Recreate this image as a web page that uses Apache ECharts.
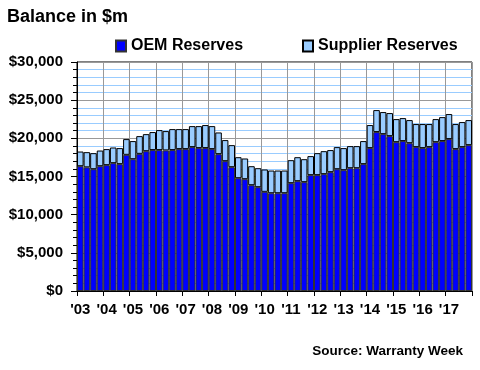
<!DOCTYPE html>
<html>
<head>
<meta charset="utf-8">
<script src="https://cdn.jsdelivr.net/npm/echarts@6/dist/echarts.min.js"></script>
<style>
html,body{margin:0;padding:0;background:#fff;}
#chart{width:480px;height:370px;}
</style>
</head>
<body>
<div id="chart"></div>
<script>
const years = ["'03","'04","'05","'06","'07","'08","'09","'10","'11","'12","'13","'14","'15","'16","'17"];
const quarters = ["Q1","Q2","Q3","Q4"];
const categories = years.flatMap(y => quarters.map(q => y + ' ' + q));

const oemReserves = [
  16350,16200,15960,16350, 16490,16750,16620,17840, 17270,17970,18320,18460,
  18460,18420,18460,18590, 18590,18850,18720,18720, 18590,17930,17010,16220,
  14780,14650,13860,13600, 12990,12810,12810,12810, 14130,14390,14260,15180,
  15180,15310,15570,15960, 15830,16090,16090,16620, 18720,20820,20550,20290,
  19500,19640,19370,18850, 18720,18850,19500,19640, 19900,18590,18850,19110
];
const supplierReserves = [
  1920,1990,2100,2050, 2100,2050,2100,2060, 2370,2320,2230,2360,
  2620,2530,2750,2620, 2620,2750,2880,3020, 3010,2840,2760,2890,
  2750,2710,2490,2490, 2930,2970,2970,2970, 3010,3140,3010,2490,
  2880,3010,2890,2890, 2890,2890,2890,3020, 3020,2880,2890,3020,
  3020,3010,3020,3020, 3150,3020,3020,3140, 3280,3280,3280,3280
];

const FONT = '"Liberation Sans", Arial, sans-serif';
const chart = echarts.init(document.getElementById('chart'), null, {renderer: 'canvas'});
chart.setOption({
  animation: false,
  backgroundColor: '#fff',
  title: {
    text: 'Balance in $m',
    left: 7, top: 8, padding: 0,
    textStyle: {fontFamily: FONT, fontSize: 18, fontWeight: 'bold', color: '#000'}
  },
  legend: [
    {
      data: ['OEM Reserves'], left: 115, top: 38, padding: 0, icon: 'rect',
      itemWidth: 10, itemHeight: 11,
      textStyle: {fontFamily: FONT, fontSize: 16, fontWeight: 'bold', color: '#000'}
    },
    {
      data: ['Supplier Reserves'], left: 302, top: 38, padding: 0, icon: 'rect',
      itemWidth: 10, itemHeight: 11,
      textStyle: {fontFamily: FONT, fontSize: 16, fontWeight: 'bold', color: '#000'}
    }
  ],
  grid: {
    left: 77, right: 8, top: 62, bottom: 79,
    show: true, borderColor: '#000', borderWidth: 1, backgroundColor: 'transparent'
  },
  xAxis: {
    type: 'category',
    data: categories,
    boundaryGap: true,
    axisLine: {lineStyle: {color: '#000', width: 1}},
    axisTick: {show: true, interval: 3, length: 5, lineStyle: {color: '#000'}},
    axisLabel: {
      interval: 3, margin: 11,
      fontFamily: FONT, fontSize: 15, fontWeight: 'bold', color: '#000',
      formatter: v => v.split(' ')[0]
    },
    splitLine: {show: true, interval: 3, lineStyle: {color: '#999', width: 1}}
  },
  yAxis: {
    type: 'value',
    min: 0, max: 30000, interval: 5000,
    axisLine: {show: true, lineStyle: {color: '#000', width: 1}},
    axisTick: {show: true, length: 6, lineStyle: {color: '#000'}},
    minorTick: {show: true, splitNumber: 5, length: 4, lineStyle: {color: '#000'}},
    axisLabel: {
      margin: 14,
      fontFamily: FONT, fontSize: 15, fontWeight: 'bold', color: '#000',
      formatter: v => '$' + v.toLocaleString('en-US')
    },
    splitLine: {show: true, lineStyle: {color: '#999', width: 1}},
    minorSplitLine: {show: true, lineStyle: {color: '#99ccff', width: 1}}
  },
  series: [
    {
      name: 'OEM Reserves', type: 'bar', stack: 'total',
      data: oemReserves, barCategoryGap: '0%',
      itemStyle: {color: '#0000ff', borderColor: '#333', borderWidth: 1}
    },
    {
      name: 'Supplier Reserves', type: 'bar', stack: 'total',
      data: supplierReserves, barCategoryGap: '0%',
      itemStyle: {color: '#99ccff', borderColor: '#000', borderWidth: 1}
    }
  ],
  graphic: [
    {
      type: 'text', right: 17, top: 344,
      style: {text: 'Source: Warranty Week', fill: '#000', font: 'bold 13.5px ' + FONT}
    }
  ]
});
</script>
</body>
</html>
